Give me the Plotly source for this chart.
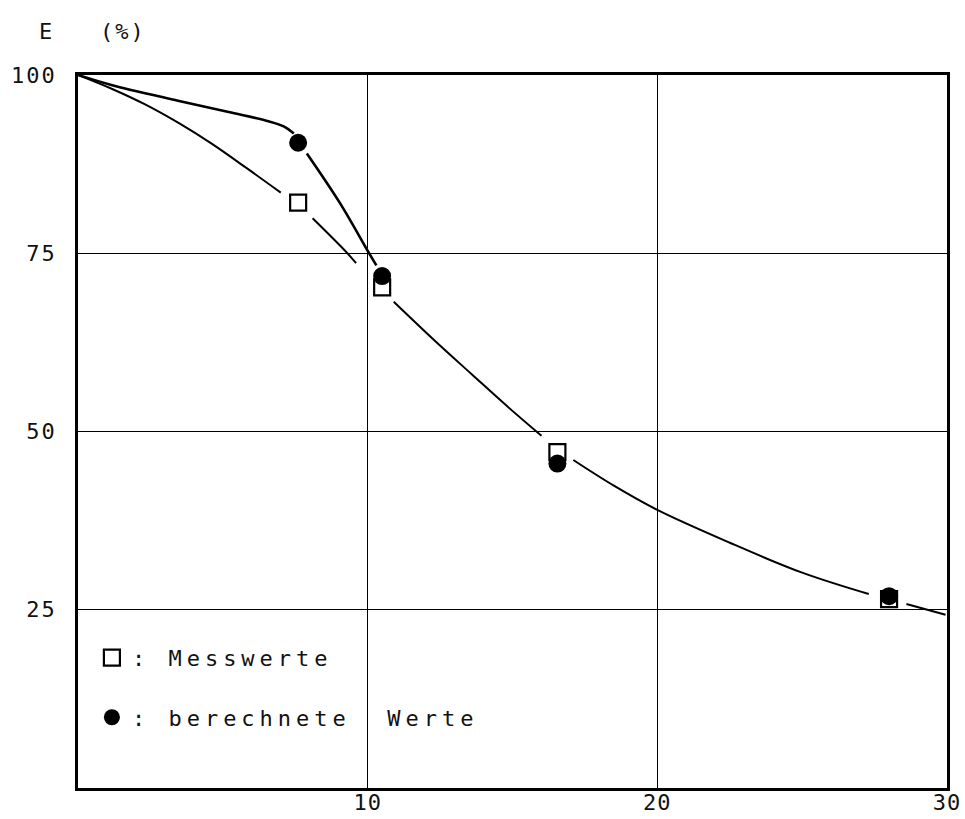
import plotly.graph_objects as go

# Measured (Messwerte) and computed (berechnete Werte) efficiency E in %
x_mess = [7.6, 10.5, 16.55, 28.0]
y_mess = [82.1, 70.2, 47.1, 26.5]
x_ber = [7.6, 10.5, 16.55, 28.0]
y_ber = [90.5, 71.8, 45.5, 26.9]

# Hand-drawn fit curve through the measured values, broken where it meets a marker
curve_mess_x = [0, 1.2, 2.3, 3.5, 4.6, 5.8, 7.0, None,
                8.1, 9.3, 9.6, None,
                10.9, 12.3, 13.6, 14.8, 16.0, None,
                17.1, 18.5, 20.0, 22.5, 25.0, 27.3, None,
                28.6, 29.95]
curve_mess_y = [100, 98.0, 95.9, 93.2, 90.4, 87.0, 83.5, None,
                79.9, 75.0, 73.6, None,
                68.2, 62.8, 58.0, 53.6, 49.4, None,
                46.0, 42.4, 39.0, 34.4, 30.2, 27.2, None,
                25.8, 24.3]

# Fit curve through the computed values (joins the measured curve beyond x = 10.5)
curve_ber_x = [0, 1.15, 3.45, 5.2, 6.5, 7.1, 7.45, None,
               7.9, 9.05, 10.05, 10.3]
curve_ber_y = [100, 98.6, 96.4, 94.8, 93.6, 92.8, 91.8, None,
               89.0, 82.0, 75.0, 73.3]

x_ticks = [10, 20, 30]
x_ticklabels = ["10", "20", "30"]
y_ticks = [25, 50, 75, 100]
y_ticklabels = ["25", "50", "75", "100"]

FONT = "DejaVu Sans Mono"
INK = "#111111"
NB = "\u00a0"


def spaced(text, px):
    return f'<span style="letter-spacing:{px}px">{text}</span>'


fig = go.Figure()

fig.add_trace(go.Scatter(
    x=curve_mess_x, y=curve_mess_y, mode="lines",
    line=dict(color="black", width=2, shape="spline"),
    connectgaps=False, showlegend=False, hoverinfo="skip"))

fig.add_trace(go.Scatter(
    x=curve_ber_x, y=curve_ber_y, mode="lines",
    line=dict(color="black", width=2.6, shape="spline"),
    connectgaps=False, showlegend=False, hoverinfo="skip"))

fig.add_trace(go.Scatter(
    x=x_mess, y=y_mess, mode="markers",
    name=spaced(":" + NB + "Messwerte", 5), legendgroup="mess",
    marker=dict(symbol="square", size=16, color="white",
                line=dict(color="black", width=2.2))))

fig.add_trace(go.Scatter(
    x=x_ber, y=y_ber, mode="markers",
    name=spaced(":" + NB + "berechnete" + NB + NB + "Werte", 5), legendgroup="ber",
    marker=dict(symbol="circle", size=18, color="black",
                line=dict(color="black", width=0))))

axis_common = dict(
    showgrid=True, gridcolor="black", gridwidth=1.2,
    showline=True, linecolor="black", linewidth=2.6, mirror=True,
    zeroline=False, ticks="", automargin=False,
    tickfont=dict(family=FONT, size=22, color=INK),
)

fig.update_xaxes(range=[0, 30], tickmode="array", tickvals=x_ticks,
                 ticktext=[spaced(t, 1) for t in x_ticklabels],
                 ticklabelstandoff=-7, **axis_common)
fig.update_yaxes(range=[0, 100], tickmode="array", tickvals=y_ticks,
                 ticktext=[spaced(t, 2) for t in y_ticklabels],
                 ticklabelstandoff=14, **axis_common)

fig.add_annotation(
    text=spaced("E" + NB * 3 + "(%)", 2),
    xref="paper", yref="paper", x=-0.047, y=1.0617,
    xanchor="left", yanchor="middle", showarrow=False,
    font=dict(family=FONT, size=22, color=INK))

fig.update_layout(
    width=965, height=819,
    margin=dict(l=78, r=18, t=75, b=31),
    paper_bgcolor="white", plot_bgcolor="white",
    showlegend=True,
    legend=dict(x=0.016, y=0.212, xanchor="left", yanchor="top",
                bgcolor="rgba(0,0,0,0)", borderwidth=0,
                tracegroupgap=28,
                font=dict(family=FONT, size=22, color=INK)),
)

fig.write_html("out.html")
